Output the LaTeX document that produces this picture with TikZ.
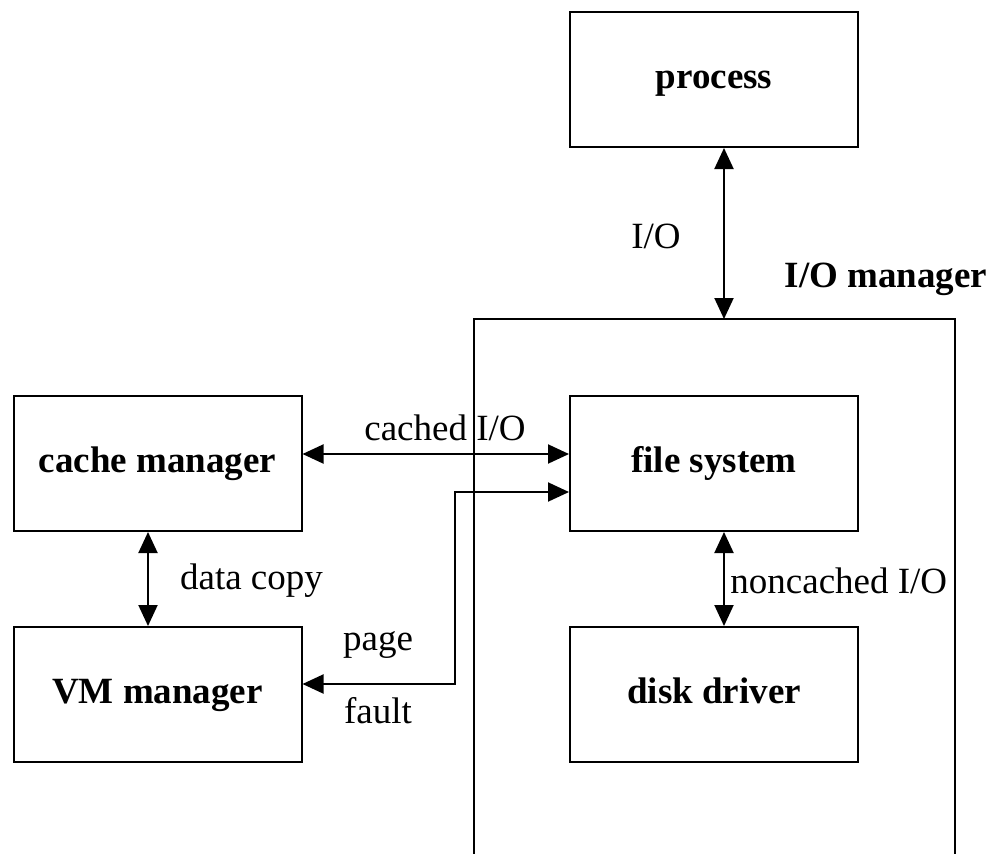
\documentclass[tikz,border=0pt]{standalone}
\usepackage{fontspec}
\setmainfont{Liberation Serif}
\usetikzlibrary{arrows.meta}
\begin{document}
\begin{tikzpicture}[x=0.5pt,y=-0.5pt,
  box/.style={draw, line width=1pt, minimum width=144pt, minimum height=67.5pt, inner sep=0pt,
    text height=12.5pt, text depth=4pt,
    font=\fontsize{18.5}{22}\selectfont\bfseries},
  lbl/.style={inner sep=0pt, font=\fontsize{18.5}{22}\selectfont},
  blbl/.style={inner sep=0pt, font=\fontsize{18.5}{22}\selectfont\bfseries},
  conn/.style={line width=1pt, {Triangle[length=10.5pt,width=9.5pt]}-{Triangle[length=10.5pt,width=9.5pt]}}]
\useasboundingbox (0,0) rectangle (991,853);
% boxes
\node[box] (process) at (714,79.5) {process};
\node[box] (cache) at (157.5,463.5) {cache manager};
\node[box] (fs) at (714,463.5) {file system};
\node[box] (vm) at (157.5,694.5) {VM manager};
\node[box] (disk) at (714,694.5) {disk driver};
% I/O manager frame (open at the bottom)
\coordinate (iomtl) at (474,319);
\coordinate (iomtr) at (955,319);
\coordinate (iombl) at (474,856);
\coordinate (iombr) at (955,856);
\draw[line width=1pt] (iombl) -- (iomtl) -- (iomtr) -- (iombr);
% connectors
\coordinate (iomin) at (724,319);
\draw[conn] (iomin |- process.south) -- (iomin);
\coordinate (cio) at (0,454);
\draw[conn] (cache.east |- cio) -- (fs.west |- cio);
\coordinate (pfa) at (455,492);
\coordinate (pfb) at (455,684);
\draw[conn] (fs.west |- pfa) -- (pfa) -- (pfb) -- (vm.east |- pfb);
\coordinate (dc) at (148,0);
\draw[conn] (dc |- cache.south) -- (dc |- vm.north);
\draw[conn] (iomin |- fs.south) -- (iomin |- disk.north);
% labels
\node[lbl, anchor=base] (iolbl) at (656,248) {I/O};
\node[blbl, anchor=base] (iomlbl) at (886,287) {I/O manager};
\node[lbl, anchor=base] (ciolbl) at (445,440) {cached I/O};
\node[lbl, anchor=base] (pagelbl) at (378,650) {page};
\node[lbl, anchor=base] (faultlbl) at (378,723) {fault};
\node[lbl, anchor=base] (dclbl) at (251.5,589) {data copy};
\node[lbl, anchor=base west] (nclbl) at (730,593) {noncached I/O};
\end{tikzpicture}
\end{document}
